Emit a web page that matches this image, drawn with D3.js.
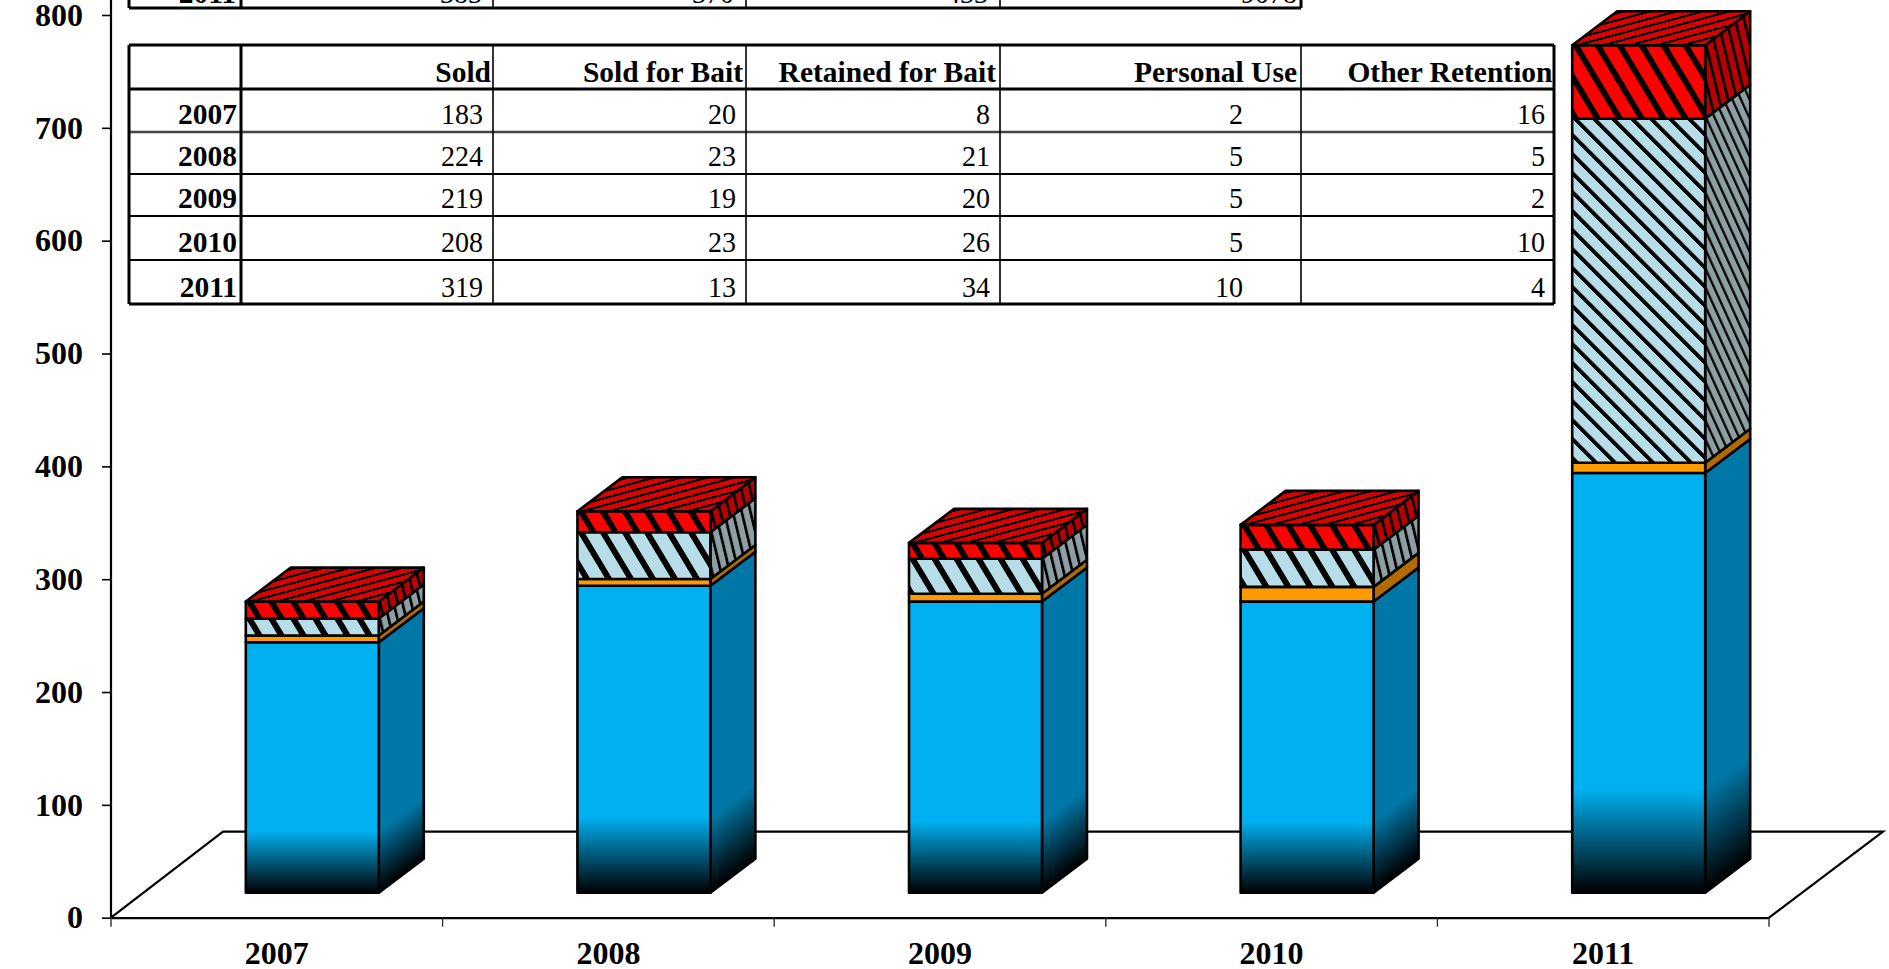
<!DOCTYPE html>
<html><head><meta charset="utf-8">
<script src="https://cdn.jsdelivr.net/npm/d3@7/dist/d3.min.js"></script>
<style>html,body{margin:0;background:#fff;overflow:hidden}svg{display:block}text{font-family:"Liberation Serif",serif;fill:#000}</style>
</head><body><svg id="c" width="1889" height="969"></svg>
<script>
const years = ["2007","2008","2009","2010","2011"];
const yTicks = [0,100,200,300,400,500,600,700,800];
// stacked chart values
const seriesBlue   = [222,272,258,258,372];
const seriesOrange = [6,6,7,13,9];
const seriesPale   = [15,41.5,31,33,305];
const seriesRed    = [15,18.5,14,22,65];
// table
const tableHead = ["Sold","Sold for Bait","Retained for Bait","Personal Use","Other Retention"];
const tableSold = [183,224,219,208,319];
const tableSoldBait = [20,23,19,23,13];
const tableRetained = [8,21,20,26,34];
const tablePersonal = [2,5,5,5,10];
const tableOther = [16,5,2,10,4];
const upperRowLabel = "2011";
const upperRow = ["383","370","433","9078"];

const svg = d3.select("#c"), defs = svg.append("defs");
const y = d3.scaleLinear().domain([0,800]).range([917.7,15]);
const x = d3.scaleBand().domain(years).range([111,1769]).paddingInner(0.599).paddingOuter(0.2995);
const floorDX = 112, floorDY = 86, depthX = 45, depthY = 34, insetX = 35.5, insetY = 25;
const W = x.bandwidth(), k = depthX/W, m = depthY/W;

// floor
const x0 = x.range()[0], x1 = x.range()[1], y0 = y(0);
svg.append("path").attr("fill","none").attr("stroke","#000").attr("stroke-width",2.2)
  .attr("d",d3.line()([[x0,y0],[x0+floorDX,y0-floorDY],[x1+floorDX+2,y0-floorDY],[x1,y0]]));

// axes
const ax = svg.append("g").attr("transform",`translate(${x0},0)`)
  .call(d3.axisLeft(y).tickValues(yTicks).tickSize(9).tickPadding(19).tickFormat(d3.format("d")));
ax.select(".domain").remove();
ax.append("line").attr("y1",0).attr("y2",y0).attr("stroke","#000").attr("stroke-width",2.2);
ax.selectAll(".tick line").attr("stroke","#000").attr("stroke-width",1.6);
ax.selectAll("text").attr("font-size",32).attr("font-weight","bold").attr("font-family",'"Liberation Serif",serif');
const bx = svg.append("g").attr("transform",`translate(0,${y0})`)
  .call(d3.axisBottom(x).tickSize(0));
bx.select(".domain").attr("stroke","#000").attr("stroke-width",2.2);
bx.selectAll("text").attr("y",46).attr("dy",0).attr("font-size",32).attr("font-weight","bold").attr("font-family",'"Liberation Serif",serif');
bx.selectAll("line.edge").data(d3.range(years.length+1)).enter().append("line").attr("class","edge")
  .attr("x1",i=>x0+i*x.step()).attr("x2",i=>x0+i*x.step()).attr("y1",0).attr("y2",9)
  .attr("stroke","#333").attr("stroke-width",1.4);

// faces
let uid=0;
function hatch(bg,matrix,period,bar){
  const id="h"+(uid++);
  const p=defs.append("pattern").attr("id",id).attr("patternUnits","userSpaceOnUse")
    .attr("width",period).attr("height",10).attr("patternTransform",`matrix(${matrix.join(",")})`);
  p.append("rect").attr("width",period).attr("height",10).attr("fill",bg);
  p.append("rect").attr("width",bar).attr("height",10).attr("fill","#000");
  return `url(#${id})`;
}
function grad(color,y1,y2,mat){
  const id="g"+(uid++);
  const g=defs.append("linearGradient").attr("id",id).attr("gradientUnits","userSpaceOnUse")
    .attr("x1",0).attr("x2",0).attr("y1",y1).attr("y2",y2);
  if(mat) g.attr("gradientTransform",`matrix(${mat.join(",")})`);
  g.append("stop").attr("offset",0).attr("stop-color",color);
  g.append("stop").attr("offset",1).attr("stop-color","#000");
  return `url(#${id})`;
}
const poly=(pts,fill)=>svg.append("path").attr("d",d3.line()(pts)+"Z").attr("fill",fill)
  .attr("stroke","#000").attr("stroke-width",2.6).attr("stroke-linejoin","round");
const sy = v => y(v)-insetY;

years.forEach((yr,i)=>{
  const L=x(yr)+insetX, R=L+W;
  const segs=[
    {v:seriesBlue[i],front:"#00B0F0",side:"#0077A6"},
    {v:seriesOrange[i],front:"#FF9900",side:"#B36B00"},
    {v:seriesPale[i],front:"#B7DEE8",side:"#8B9FA4",h:true,t:i===4?1:0.6,period:i===4?19:22,bar:i===4?5.5:7},
    {v:seriesRed[i],front:"#FF0000",side:"#B80000",h:true,t:0.6,period:22,bar:7}
  ];
  let cum=0;
  segs.forEach((s,j)=>{
    const a=sy(cum), b=sy(cum+s.v); cum+=s.v;
    let ff=s.front, fs=s.side;
    if(j===0){
      const H=a-b, g=a-H*0.245, n=depthY/depthX;
      ff=grad(s.front,g,a);
      fs=grad(s.side,g,a,[1,-n,0,1,0,n*R]);
    } else if(s.h){
      ff=hatch(s.front,[1,0,s.t,1,L,b],s.period,s.bar);
      fs=hatch(s.side,[k,-m,k*s.t,1-m*s.t,L+W-depthX,b+depthY],s.period,s.bar);
    }
    poly([[R,a],[R+depthX,a-depthY],[R+depthX,b-depthY],[R,b]],fs);
    poly([[L,a],[R,a],[R,b],[L,b]],ff);
    if(j===3){
      poly([[L,b],[R,b],[R+depthX,b-depthY],[L+depthX,b-depthY]],
        hatch("#D80000",[1.2,0,3.73,-1,L,b],22,7));
    }
  });
});

// tables
const colX=[129,241,493,746,1000,1301,1554];
const rowY=[45,89,132,174,216,260,304];
const t=svg.append("g");
const ln=(a,b,c,d,w,col)=>t.append("line").attr("x1",a).attr("y1",b).attr("x2",c).attr("y2",d)
  .attr("stroke",col||"#000").attr("stroke-width",w);
const txt=(s,xr,yb,bold)=>t.append("text").text(s).attr("text-anchor","end")
  .attr("transform",`translate(${xr},${yb}) scale(${bold?1:.95},1)`).attr("font-size",29.5)
  .attr("font-weight",bold?"bold":"normal").attr("fill","#111");
// lower table
rowY.forEach((r,i)=>ln(colX[0],r,colX[6],r,(i===0||i===1||i===6)?3:(i===2?2.4:2),i===2?"#444":"#000"));
colX.forEach((c,i)=>ln(c,rowY[0],c,rowY[6],(i<2||i===6)?3:1.6));
const headRight=[491,743,996,1297,1552.5];
tableHead.forEach((h,i)=>txt(h,headRight[i],82,true));
const rowBase=[124,166,208,252,297];
const dataRight=[483,736,990,1243,1545];
[tableSold,tableSoldBait,tableRetained,tablePersonal,tableOther].forEach((col,c)=>
  col.forEach((v,r)=>txt(v,dataRight[c],rowBase[r],false)));
years.forEach((yr,r)=>txt(yr,237,rowBase[r],true));
// upper table (cut off by the page top)
ln(colX[0],8,1301,8,3);
[129,241,493,746,1000,1301].forEach((c,i)=>ln(c,0,c,8,i<2||i===5?3:1.6));
txt(upperRowLabel,236,3,true);
const upperRight=[482,734,988,1297];
upperRow.forEach((v,i)=>txt(v,upperRight[i],3,false));
</script></body></html>
